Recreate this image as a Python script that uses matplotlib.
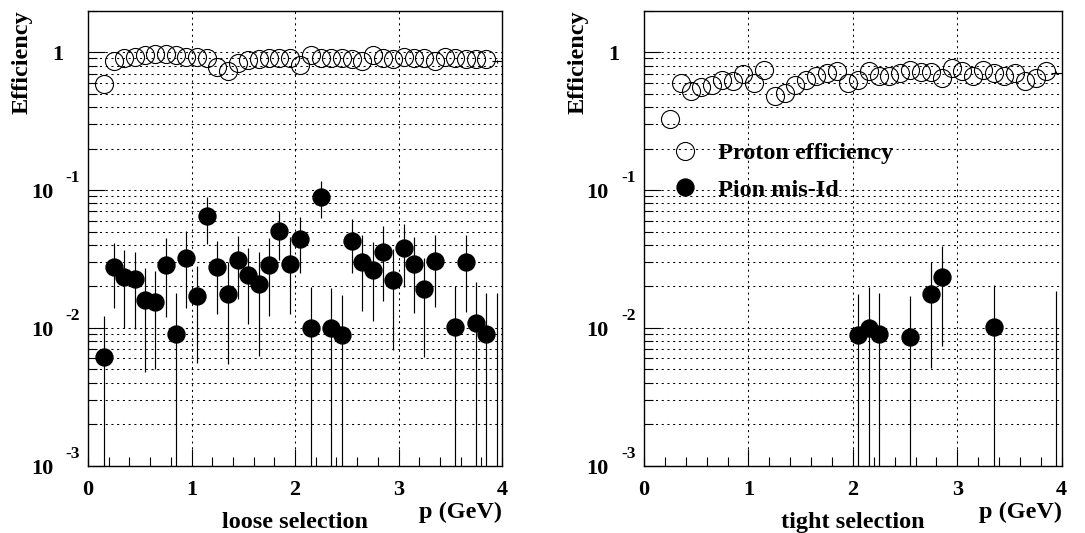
import numpy as np
import matplotlib
matplotlib.use("Agg")
import matplotlib.pyplot as plt
from matplotlib.ticker import MultipleLocator, FixedLocator, LogLocator, NullFormatter
from matplotlib.transforms import blended_transform_factory, ScaledTranslation

plt.rcParams['font.family'] = ['Liberation Serif', 'DejaVu Serif']
plt.rcParams['font.weight'] = 'bold'

# ---------------- data ----------------
# loose selection
loose_p_x = [0.15, 0.25, 0.35, 0.45, 0.55, 0.65, 0.75, 0.85, 0.95, 1.05, 1.15, 1.25, 1.35,
             1.45, 1.55, 1.65, 1.75, 1.85, 1.95, 2.05, 2.15, 2.25, 2.35, 2.45, 2.55, 2.65,
             2.75, 2.85, 2.95, 3.05, 3.15, 3.25, 3.35, 3.45, 3.55, 3.65, 3.75, 3.85]
loose_p_eff = [0.586, 0.87, 0.90, 0.92, 0.95, 0.965, 0.965, 0.955, 0.93, 0.93, 0.915, 0.775,
               0.725, 0.83, 0.88, 0.895, 0.905, 0.915, 0.90, 0.81, 0.95, 0.91, 0.90, 0.90,
               0.89, 0.87, 0.96, 0.90, 0.89, 0.92, 0.91, 0.91, 0.87, 0.92, 0.90, 0.89, 0.89, 0.89]
loose_p_last = (3.95, 0.86, 0.02)   # bin drawn without marker (x, eff, err)

loose_pi_x = [0.15, 0.25, 0.35, 0.45, 0.55, 0.65, 0.75, 0.85, 0.95, 1.05, 1.15, 1.25, 1.35,
              1.45, 1.55, 1.65, 1.75, 1.85, 1.95, 2.05, 2.15, 2.25, 2.35, 2.45, 2.55, 2.65,
              2.75, 2.85, 2.95, 3.05, 3.15, 3.25, 3.35, 3.55, 3.65, 3.75, 3.85]
loose_pi_eff = [0.0061, 0.0276, 0.0234, 0.0226, 0.0160, 0.0155, 0.0284, 0.0091, 0.0321, 0.0169,
                0.0646, 0.0276, 0.0177, 0.0312, 0.0243, 0.0209, 0.0285, 0.0508, 0.0292, 0.0443,
                0.0100, 0.0896, 0.0100, 0.00885, 0.0430, 0.0300, 0.0265, 0.0354, 0.0221, 0.0381,
                0.0292, 0.0192, 0.0308, 0.0102, 0.0300, 0.0109, 0.0090]
loose_pi_err = [0.0061, 0.0137, 0.0134, 0.0128, 0.0112, 0.0105, 0.0164, 0.0088, 0.0181, 0.0113,
                0.0239, 0.0150, 0.0122, 0.0150, 0.0136, 0.0146, 0.0164, 0.0195, 0.0166, 0.0191,
                0.0098, 0.0272, 0.0095, 0.0086, 0.0182, 0.0168, 0.0153, 0.0198, 0.0152, 0.0183,
                0.0164, 0.0131, 0.0167, 0.0098, 0.0170, 0.0106, 0.0088]
loose_pi_last = (3.95, 0.0090, 0.0090)

# tight selection
tight_p_x = [0.25, 0.35, 0.45, 0.55, 0.65, 0.75, 0.85, 0.95, 1.05, 1.15, 1.25, 1.35, 1.45,
             1.55, 1.65, 1.75, 1.85, 1.95, 2.05, 2.15, 2.25, 2.35, 2.45, 2.55, 2.65, 2.75,
             2.85, 2.95, 3.05, 3.15, 3.25, 3.35, 3.45, 3.55, 3.65, 3.75, 3.85]
tight_p_eff = [0.325, 0.60, 0.525, 0.555, 0.58, 0.625, 0.615, 0.69, 0.60, 0.745, 0.478, 0.505,
               0.574, 0.63, 0.667, 0.705, 0.725, 0.597, 0.63, 0.725, 0.667, 0.667, 0.705, 0.745,
               0.717, 0.717, 0.649, 0.766, 0.725, 0.667, 0.745, 0.705, 0.667, 0.705, 0.614,
               0.649, 0.725]
tight_p_last = (3.95, 0.71, 0.02)

tight_pi_x = [2.05, 2.15, 2.25, 2.55, 2.75, 2.85, 3.35]
tight_pi_eff = [0.00895, 0.0099, 0.0090, 0.0086, 0.0175, 0.0234, 0.0102]
tight_pi_err = [0.0088, 0.0099, 0.0089, 0.0084, 0.0124, 0.0160, 0.0101]
tight_pi_last = (3.95, 0.0092, 0.0092)

x_ticklabels = ["0", "1", "2", "3", "4"]
panel_titles = ["loose selection", "tight selection"]
legend_labels = ["Proton efficiency", "Pion mis-Id"]

# ---------------- figure ----------------
W, H = 1085, 533
fig = plt.figure(figsize=(W / 100, H / 100), dpi=100)
bottom = (H - 465.7) / H
height = 455.0 / H
ax1 = fig.add_axes([88 / W, bottom, 414 / W, height])
ax2 = fig.add_axes([644 / W, bottom, 417.7 / W, height])

FS = 17.5
TFS = 16
EFS = 12.5


def px(dx, dy):
    return ScaledTranslation(dx / 100.0, dy / 100.0, fig.dpi_scale_trans)


def draw_panel(ax, p_x, p_eff, p_last, pi_x, pi_eff, pi_err, pi_last, title):
    ax.set_xscale('linear')
    ax.set_yscale('log')
    ax.set_xlim(0, 4)
    ax.set_ylim(1e-3, 2.0)

    for s in ax.spines.values():
        s.set_linewidth(1.0)
        s.set_color('black')

    ax.xaxis.set_major_locator(FixedLocator([1, 2, 3]))
    ax.xaxis.set_minor_locator(MultipleLocator(0.2))
    ax.yaxis.set_major_locator(LogLocator(base=10, numticks=10))
    ax.yaxis.set_minor_locator(LogLocator(base=10, subs=np.arange(2, 10), numticks=20))
    ax.xaxis.set_major_formatter(NullFormatter())
    ax.xaxis.set_minor_formatter(NullFormatter())
    ax.yaxis.set_major_formatter(NullFormatter())
    ax.yaxis.set_minor_formatter(NullFormatter())
    ax.tick_params(which='major', direction='in', length=12.5, width=0.8,
                   top=False, right=False)
    ax.tick_params(which='minor', direction='in', length=6.5, width=0.8,
                   top=False, right=False)

    gstyle = dict(color='black', linewidth=0.75, linestyle=(0, (2, 3.5)))
    ax.grid(True, axis='x', which='major', **gstyle)
    ax.grid(True, axis='y', which='both', **gstyle)
    ax.set_axisbelow(True)

    # proton efficiency (open circles)
    hp, = ax.plot(p_x, p_eff, linestyle='none', marker='o', markersize=13,
                  markerfacecolor='none', markeredgecolor='black', markeredgewidth=0.8,
                  zorder=3)
    ax.errorbar([p_last[0]], [p_last[1]], xerr=0.05, yerr=p_last[2], fmt='none',
                ecolor='black', elinewidth=0.8, zorder=3)

    # pion mis-id (filled circles)
    y = np.array(pi_eff)
    e = np.array(pi_err)
    lo = np.minimum(e, y - 1e-6)
    ax.errorbar(pi_x, y, yerr=[lo, e], fmt='none', ecolor='black', elinewidth=0.85,
                zorder=3)
    hpi, = ax.plot(pi_x, y, linestyle='none', marker='o', markersize=12.2,
                   markerfacecolor='black', markeredgecolor='black', zorder=4)
    ax.errorbar([pi_last[0]], [pi_last[1]],
                yerr=[[min(pi_last[2], pi_last[1] - 1e-6)], [pi_last[2]]],
                fmt='none', ecolor='black', elinewidth=0.85, zorder=3)

    # y tick labels (ROOT style)
    tr = blended_transform_factory(ax.transAxes, ax.transData)
    for k in range(-3, 1):
        v = 10.0 ** k
        if k == 0:
            ax.text(0, v, "1", transform=tr + px(-25, -8), ha='right', va='baseline',
                    fontsize=TFS, fontweight='bold')
        else:
            ax.text(0, v, "10", transform=tr + px(-35, -8), ha='right', va='baseline',
                    fontsize=TFS, fontweight='bold')
            ax.text(0, v, str(k), transform=tr + px(-23, 8), ha='left', va='baseline',
                    fontsize=EFS, fontweight='bold')

    # x tick labels
    trx = blended_transform_factory(ax.transData, ax.transAxes)
    for i, lab in enumerate(x_ticklabels):
        ax.text(i, 0, lab, transform=trx + px(0, -29), ha='center', va='baseline',
                fontsize=TFS, fontweight='bold', clip_on=False)

    ax.text(1, 0, "p (GeV)", transform=ax.transAxes + px(0, -52), ha='right',
            va='baseline', fontsize=FS, fontweight='bold')
    ax.text(0.5, 0, title, transform=ax.transAxes + px(0, -62), ha='center',
            va='baseline', fontsize=FS, fontweight='bold')
    ax.text(0, 1, "Efficiency", transform=ax.transAxes + px(-66, 0), rotation=90,
            ha='center', va='top', fontsize=FS, fontweight='bold')
    return hp, hpi


draw_panel(ax1, loose_p_x, loose_p_eff, loose_p_last, loose_pi_x, loose_pi_eff,
           loose_pi_err, loose_pi_last, panel_titles[0])
hp, hpi = draw_panel(ax2, tight_p_x, tight_p_eff, tight_p_last, tight_pi_x, tight_pi_eff,
                     tight_pi_err, tight_pi_last, panel_titles[1])

leg = ax2.legend([hp, hpi], legend_labels, loc='center left',
                 bbox_to_anchor=(0.069, 0.647), frameon=False, fontsize=FS,
                 handlelength=1.0, handletextpad=0.86, labelspacing=0.6,
                 borderpad=0, borderaxespad=0)
for t in leg.get_texts():
    t.set_fontweight('bold')

fig.savefig("out.png", dpi=100)
